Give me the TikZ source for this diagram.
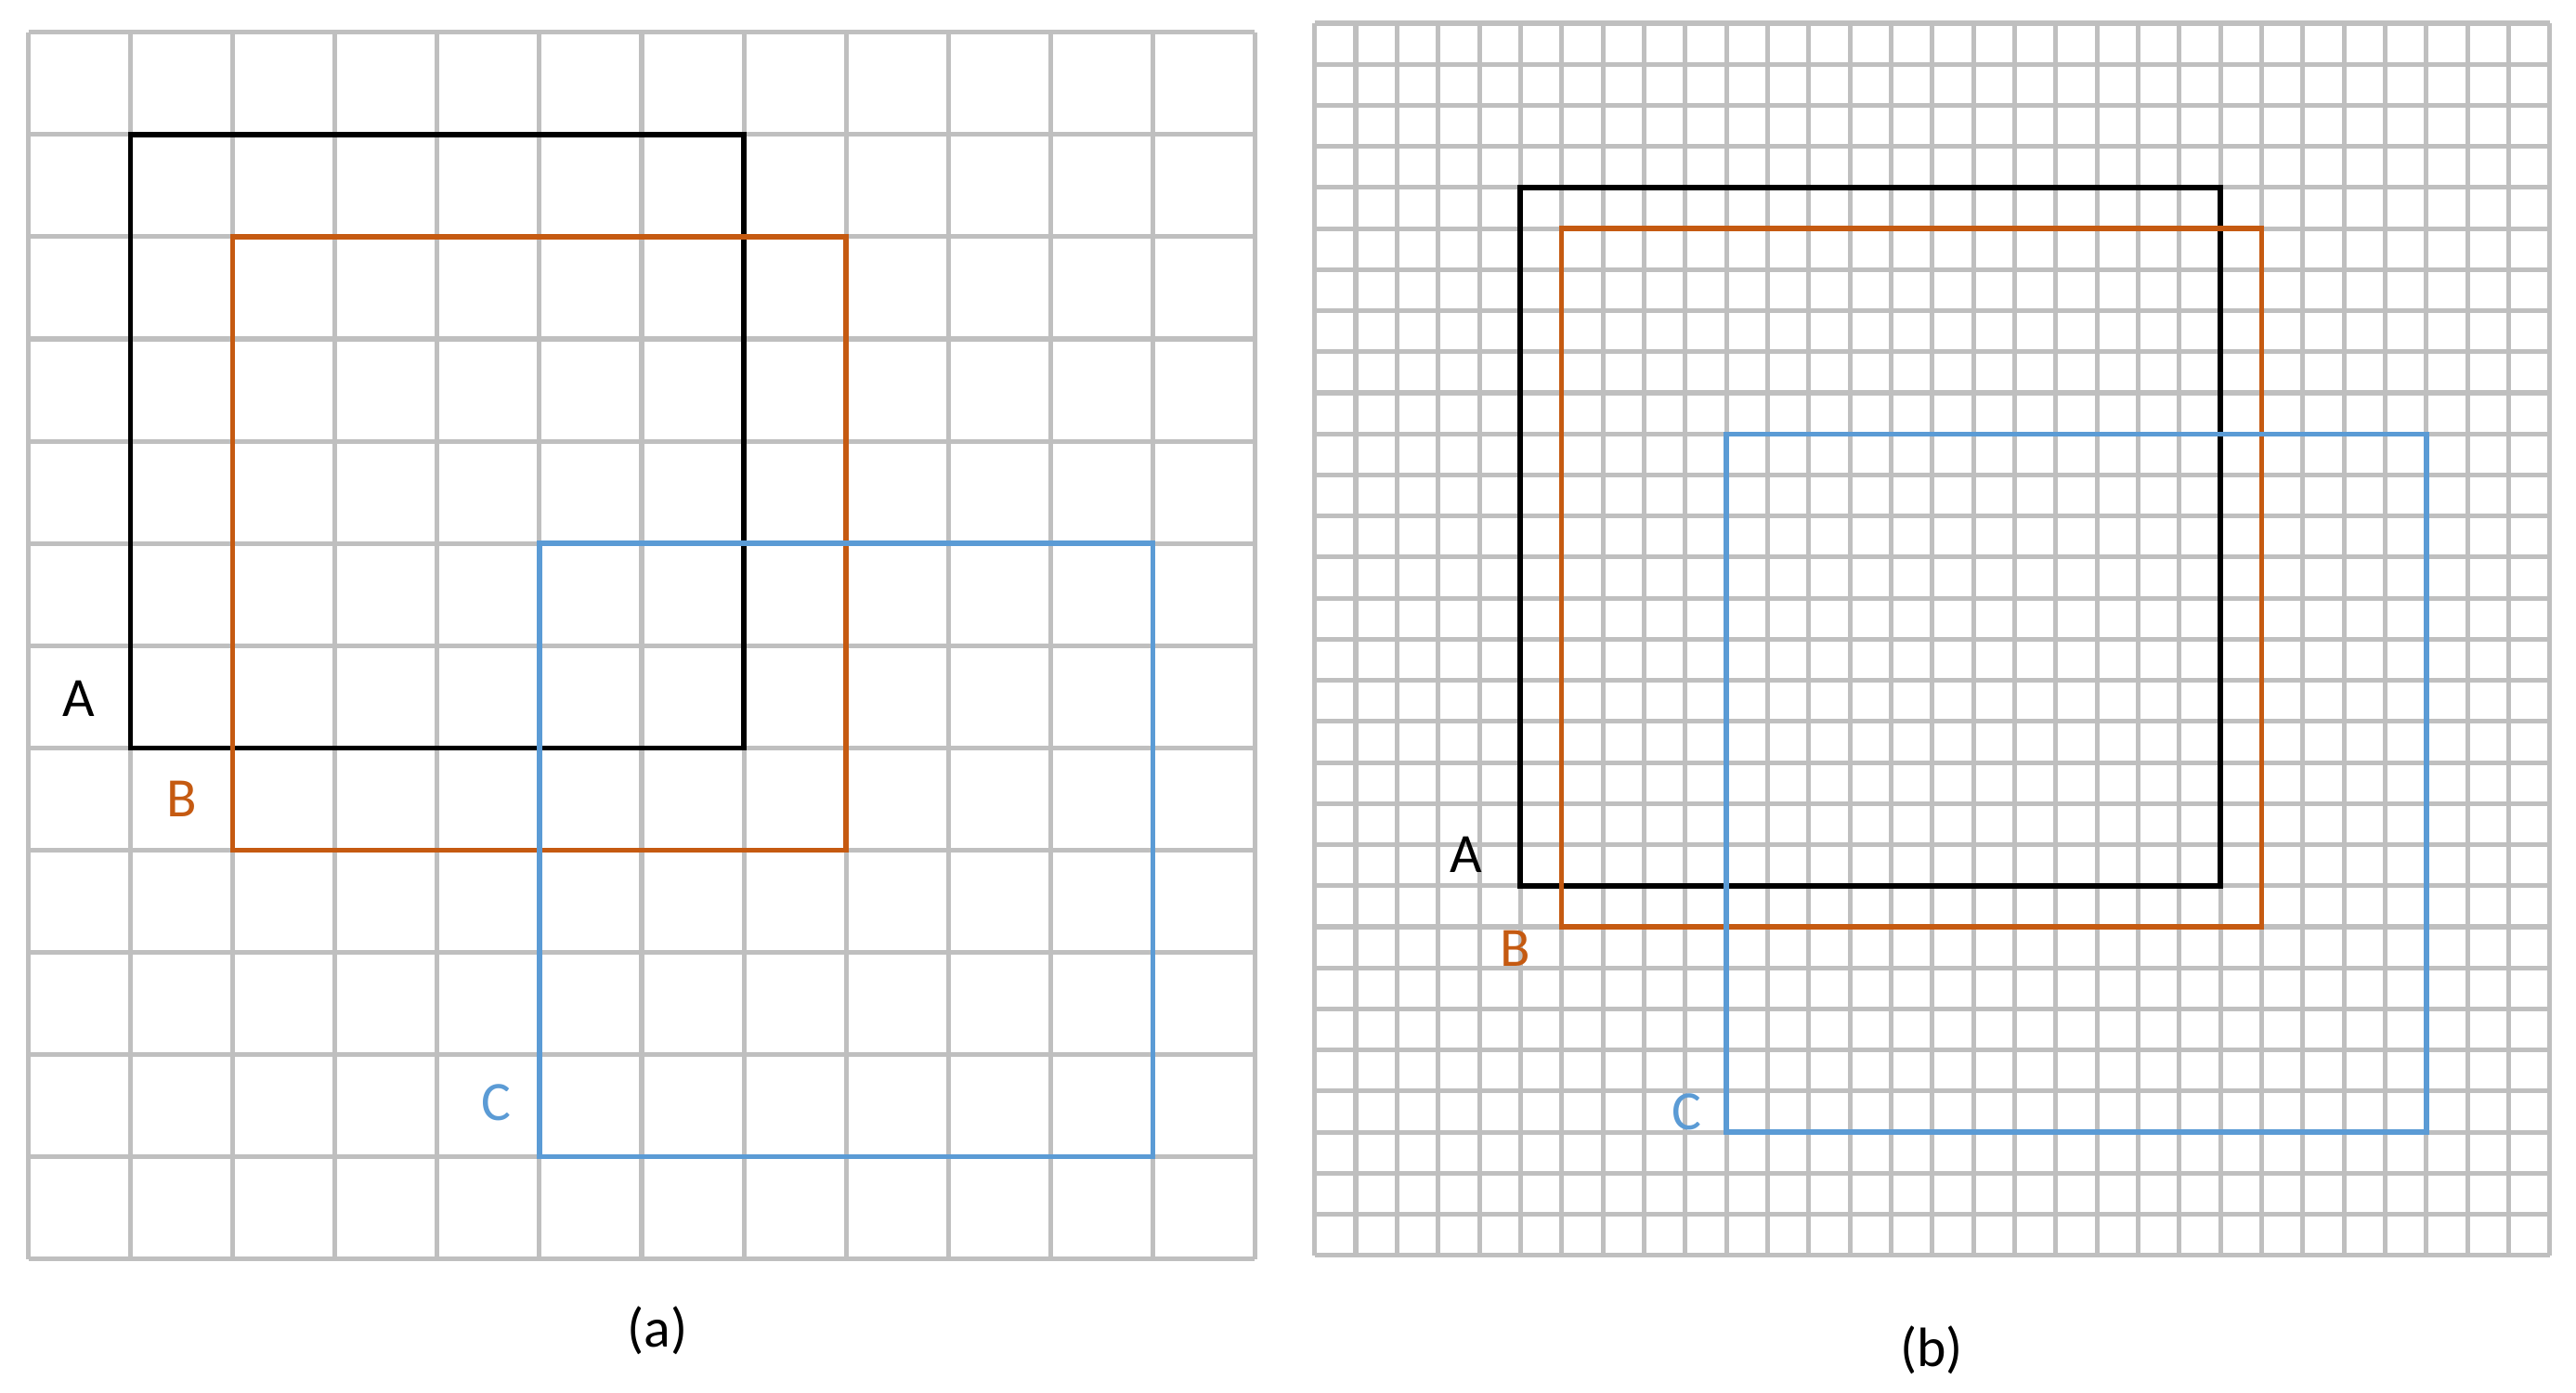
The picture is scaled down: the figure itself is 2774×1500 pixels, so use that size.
\documentclass[tikz,border=0pt]{standalone}
\usepackage{fontspec}
\setmainfont{Carlito}
\definecolor{gridgray}{HTML}{BFBFBF}
\definecolor{boxorange}{HTML}{C55A11}
\definecolor{boxblue}{HTML}{5B9BD5}

\begin{document}
\begin{tikzpicture}[x=0.01cm, y=-0.01cm,
	gridline/.style={draw=gridgray, line width=1.45pt},
	boxline/.style={line width=1.55pt},
	lbl/.style={font=\fontsize{17}{20}\selectfont, inner sep=0pt}]
	\useasboundingbox (0,0) rectangle (2774,1500);

	% (a): coarse grid, 12 x 12
	\begin{scope}[shift={(30.6,34.8)}, x=1.1cm, y=-1.1cm]
		\foreach \i in {0,...,12}
			\draw[gridline] (\i,0) -- (\i,12) (0,\i) -- (12,\i);
		\draw[boxline] (1,1) rectangle (7,7);
		\draw[boxline, boxorange] (2,2) rectangle (8,8);
		\draw[boxline, boxblue] (5,5) rectangle (11,11);
	\end{scope}
	\node[lbl] (aA) at (85,752) {A};
	\node[lbl, boxorange] (aB) at (196,860) {B};
	\node[lbl, boxblue] (aC) at (534,1187) {C};
	\node[lbl] (capa) at (708,1433) {(a)};

	% (b): fine grid, 30 x 30
	\begin{scope}[shift={(1415.7,25)}, x=0.4431cm, y=-0.4420cm]
		\foreach \i in {0,...,30}
			\draw[gridline] (\i,0) -- (\i,30) (0,\i) -- (30,\i);
		\draw[boxline, line width=1.7pt] (5,4) rectangle (22,21);
		\draw[boxline, boxorange] (6,5) rectangle (23,22);
		\draw[boxline, boxblue] (10,10) rectangle (27,27);
	\end{scope}
	\node[lbl] (bA) at (1579,920) {A};
	\node[lbl, boxorange] (bB) at (1632,1021) {B};
	\node[lbl, boxblue] (bC) at (1816,1197) {C};
	\node[lbl] (capb) at (2080,1454) {(b)};
\end{tikzpicture}
\end{document}
